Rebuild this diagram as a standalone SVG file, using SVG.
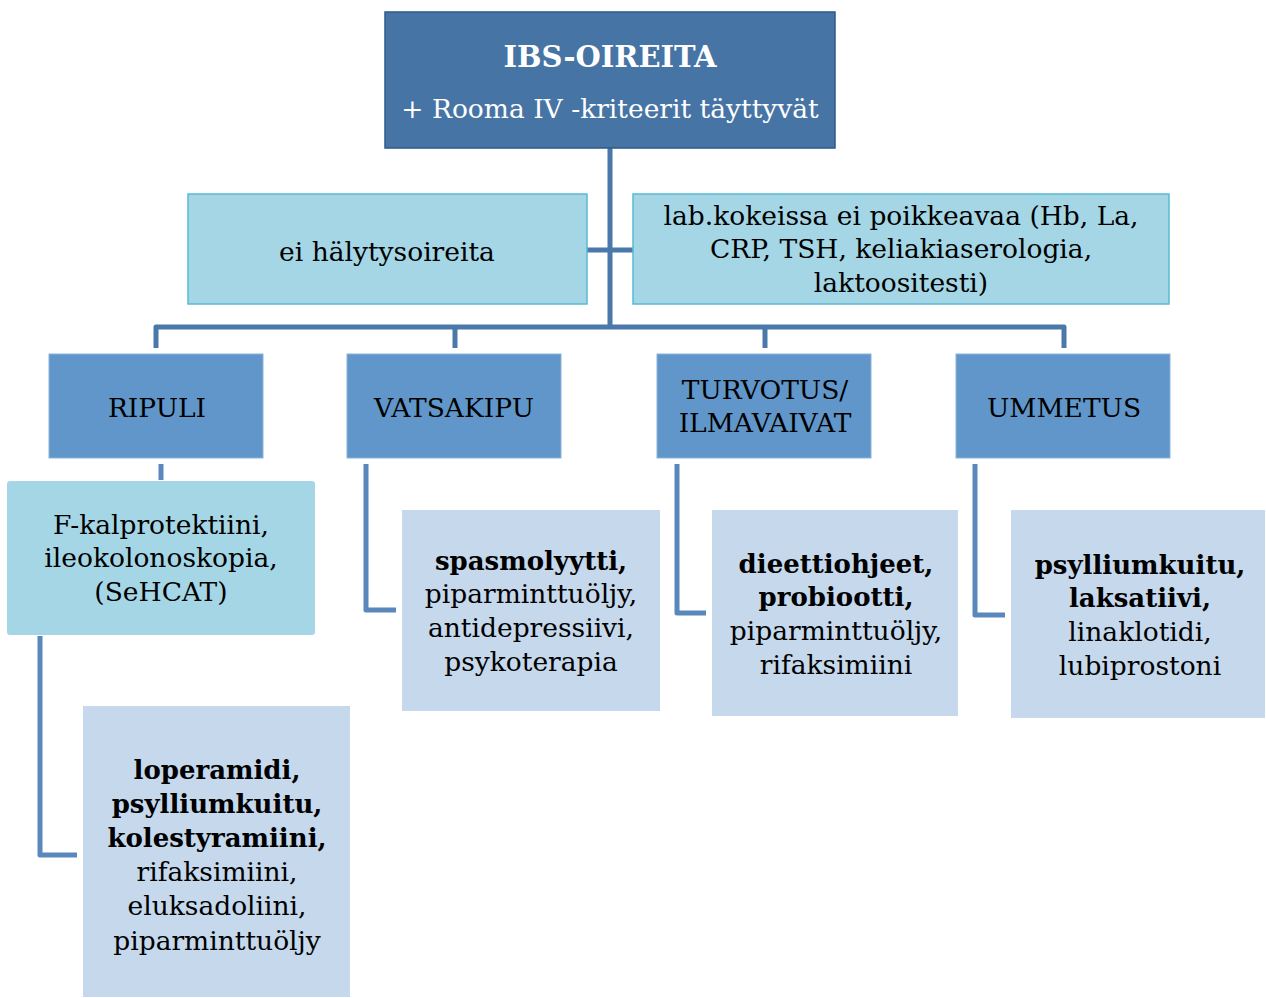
<svg xmlns="http://www.w3.org/2000/svg" width="1266" height="998" viewBox="0 0 1266 998">
<style>
text{font-family:"DejaVu Serif","Liberation Serif",serif;font-size:26.5px;fill:#000;text-anchor:middle}
.b{font-weight:bold;font-size:26px}
.w{fill:#fff}
.top{fill:#4674A5;stroke:#2E5A8C;stroke-width:1.5}
.side{fill:#A5D6E5;stroke:#58BAD4;stroke-width:1.5}
.cat{fill:#6096C9;stroke:#8AB3DA;stroke-width:1}
.tst{fill:#A5D6E5}
.trt{fill:#C5D8EC}
.c{fill:none;stroke:#4A78AA;stroke-width:5;stroke-linejoin:round}
.c2{fill:none;stroke:#5A88BC;stroke-width:5;stroke-linejoin:round}
</style>
<g id="connectors">
<path class="c" d="M610 148 V327"/>
<path class="c" d="M587 250 H633"/>
<path class="c" d="M156 348 V327 H1064 V348"/>
<path class="c" d="M455 327 V348"/>
<path class="c" d="M765 327 V348"/>
<path class="c2" d="M161 464 V480"/>
<path class="c2" d="M40 636 V855 H77"/>
<path class="c2" d="M366 464 V610 H396"/>
<path class="c2" d="M677 464 V613 H706"/>
<path class="c2" d="M975 464 V615 H1005"/>
</g>
<g id="n-top">
<rect class="top" x="385" y="12" width="450" height="136"/>
<text class="b w" x="610" y="67" style="font-size:29px">IBS-OIREITA</text>
<text class="w" x="610" y="118">+ Rooma IV -kriteerit täyttyvät</text>
</g>
<g id="n-halytys">
<rect class="side" x="188" y="194" width="399" height="110"/>
<text x="387" y="261">ei hälytysoireita</text>
</g>
<g id="n-lab">
<rect class="side" x="633" y="194" width="536" height="110"/>
<text x="901" y="225">lab.kokeissa ei poikkeavaa (Hb, La,</text>
<text x="901" y="258">CRP, TSH, keliakiaserologia,</text>
<text x="901" y="292">laktoositesti)</text>
</g>
<g id="n-ripuli">
<rect class="cat" x="49" y="354" width="214" height="104"/>
<text x="157" y="417">RIPULI</text>
</g>
<g id="n-vatsakipu">
<rect class="cat" x="347" y="354" width="214" height="104"/>
<text x="454" y="417">VATSAKIPU</text>
</g>
<g id="n-turvotus">
<rect class="cat" x="657" y="354" width="214" height="104"/>
<text x="765" y="399">TURVOTUS/</text>
<text x="765" y="432">ILMAVAIVAT</text>
</g>
<g id="n-ummetus">
<rect class="cat" x="956" y="354" width="214" height="104"/>
<text x="1064" y="417">UMMETUS</text>
</g>
<g id="n-tests">
<rect class="tst" x="7" y="481" width="308" height="154" rx="3"/>
<text x="161" y="534">F-kalprotektiini,</text>
<text x="161" y="567">ileokolonoskopia,</text>
<text x="161" y="601">(SeHCAT)</text>
</g>
<g id="n-ripuli-hoito">
<rect class="trt" x="83" y="706" width="267" height="291"/>
<text class="b" x="217" y="779">loperamidi,</text>
<text class="b" x="217" y="813">psylliumkuitu,</text>
<text class="b" x="217" y="847">kolestyramiini,</text>
<text x="217" y="881">rifaksimiini,</text>
<text x="217" y="915">eluksadoliini,</text>
<text x="217" y="950">piparminttuöljy</text>
</g>
<g id="n-vatsakipu-hoito">
<rect class="trt" x="402" y="510" width="258" height="201"/>
<text class="b" x="531" y="570">spasmolyytti,</text>
<text x="531" y="603">piparminttuöljy,</text>
<text x="531" y="637">antidepressiivi,</text>
<text x="531" y="671">psykoterapia</text>
</g>
<g id="n-turvotus-hoito">
<rect class="trt" x="712" y="510" width="246" height="206"/>
<text class="b" x="836" y="573">dieettiohjeet,</text>
<text class="b" x="836" y="606">probiootti,</text>
<text x="836" y="640">piparminttuöljy,</text>
<text x="836" y="674">rifaksimiini</text>
</g>
<g id="n-ummetus-hoito">
<rect class="trt" x="1011" y="510" width="254" height="208"/>
<text class="b" x="1140" y="574">psylliumkuitu,</text>
<text class="b" x="1140" y="607">laksatiivi,</text>
<text x="1140" y="641">linaklotidi,</text>
<text x="1140" y="675">lubiprostoni</text>
</g>
</svg>
